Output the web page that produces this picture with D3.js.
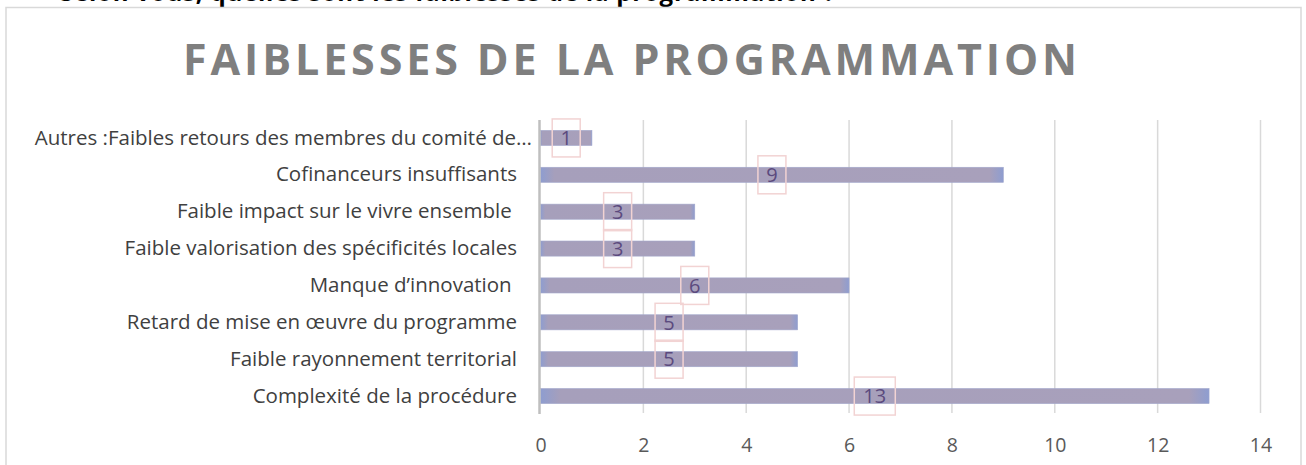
<!DOCTYPE html>
<html>
<head>
<meta charset="utf-8">
<script src="https://cdn.jsdelivr.net/npm/d3@7"></script>
<style>
  body { margin: 0; background: #fff; }
  svg { display: block; }
  text { white-space: pre; }
</style>
</head>
<body>
<div id="chart"></div>
<script>
// données
const categories = [
  "Autres :Faibles retours des membres du comité de…",
  "Cofinanceurs insuffisants",
  "Faible impact sur le vivre ensemble ",
  "Faible valorisation des spécificités locales",
  "Manque d’innovation ",
  "Retard de mise en œuvre du programme",
  "Faible rayonnement territorial",
  "Complexité de la procédure"
];
const values = [1, 9, 3, 3, 6, 5, 5, 13];
const xTicks = [0, 2, 4, 6, 8, 10, 12, 14];
const title = "FAIBLESSES DE LA PROGRAMMATION";
const topLine = "Selon vous, quelles sont les faiblesses de la programmation ?";

const width = 1306, height = 465;
const plot = { left: 540.5, right: 1260.5, top: 119.5, bottom: 414.5 };

const data = categories.map((c, i) => ({ cat: c, val: values[i] }));

const svg = d3.select("#chart").append("svg")
  .attr("width", width)
  .attr("height", height)
  .style("font-family", "'Open Sans', sans-serif");

// texte du document coupé en haut (seul le bas des lettres est visible)
svg.append("text")
  .attr("x", 60).attr("y", 1)
  .attr("textLength", 775)
  .style("font-weight", "bold").style("font-size", "24px")
  .attr("fill", "#000")
  .text(topLine);

// cadre du graphique
svg.append("rect")
  .attr("x", 6).attr("y", 7.5)
  .attr("width", 1295).attr("height", 480)
  .attr("fill", "#fff")
  .attr("stroke", "#d9d9d9").attr("stroke-width", 1.5);

// titre
svg.append("text")
  .attr("x", 183).attr("y", 75)
  .attr("textLength", 894).attr("lengthAdjust", "spacing")
  .attr("fill", "#7f7f7f")
  .style("font-weight", "bold").style("font-size", "43px")
  .text(title);

const x = d3.scaleLinear().domain([0, 14]).range([plot.left, plot.right]);
const y = d3.scaleBand().domain(categories)
  .range([plot.top, plot.bottom])
  .paddingInner(0.59).paddingOuter(0.295);

// lignes de quadrillage
svg.append("g").selectAll("line")
  .data(xTicks.filter(t => t > 0))
  .enter().append("line")
  .attr("x1", d => x(d)).attr("x2", d => x(d))
  .attr("y1", 120).attr("y2", 413)
  .attr("stroke", "#d9d9d9").attr("stroke-width", 1.5);

// dégradé des barres
const grad = svg.append("defs").append("linearGradient")
  .attr("id", "barGrad").attr("x1", 0).attr("x2", 1).attr("y1", 0).attr("y2", 0);
grad.append("stop").attr("offset", 0).attr("stop-color", "#8e9dd0");
grad.append("stop").attr("offset", 0.03).attr("stop-color", "#a69fbb");
grad.append("stop").attr("offset", 0.97).attr("stop-color", "#a8a0bb");
grad.append("stop").attr("offset", 1).attr("stop-color", "#8e9dd0");

svg.append("g").selectAll("rect")
  .data(data)
  .enter().append("rect")
  .attr("x", x(0))
  .attr("y", d => y(d.cat))
  .attr("width", d => x(d.val) - x(0))
  .attr("height", y.bandwidth())
  .attr("fill", "url(#barGrad)")
  .attr("stroke", "#a3a8cc").attr("stroke-width", 0.6);

// axe vertical
svg.append("line")
  .attr("x1", x(0) - 1).attr("x2", x(0) - 1)
  .attr("y1", 120).attr("y2", 414)
  .attr("stroke", "#bfbfbf").attr("stroke-width", 2.5);

// axe des x
const xAxis = svg.append("g")
  .attr("transform", "translate(0,413)")
  .call(d3.axisBottom(x).tickValues(xTicks).tickSize(0).tickPadding(25));
xAxis.select(".domain").remove();
xAxis.selectAll("text")
  .attr("fill", "#595959")
  .style("font-family", "'Open Sans', sans-serif")
  .style("font-size", "19.5px");

// libellés des catégories
const yAxis = svg.append("g")
  .attr("transform", `translate(${plot.left},0)`)
  .call(d3.axisLeft(y).tickSize(0).tickPadding(23.5));
yAxis.select(".domain").remove();
yAxis.selectAll("text")
  .attr("fill", "#404040")
  .style("font-family", "'Open Sans', sans-serif")
  .style("font-size", "20.5px")
  .attr("dx", (d, i) => i === 0 ? 15 : 0);

// étiquettes de données
const labels = svg.append("g").selectAll("g")
  .data(data)
  .enter().append("g")
  .attr("transform", d => `translate(${x(d.val / 2)},${y(d.cat) + y.bandwidth() / 2})`);

labels.append("rect")
  .attr("x", d => d.val >= 10 ? -20.5 : -14)
  .attr("y", -19)
  .attr("width", d => d.val >= 10 ? 41 : 28)
  .attr("height", 38)
  .attr("fill", "none")
  .attr("stroke", "#f2d3d3").attr("stroke-width", 1.5);

labels.append("text")
  .attr("text-anchor", "middle")
  .attr("dy", "0.36em")
  .attr("fill", "#5b4a7e")
  .style("font-size", "20px")
  .text(d => d.val);
</script>
</body>
</html>
